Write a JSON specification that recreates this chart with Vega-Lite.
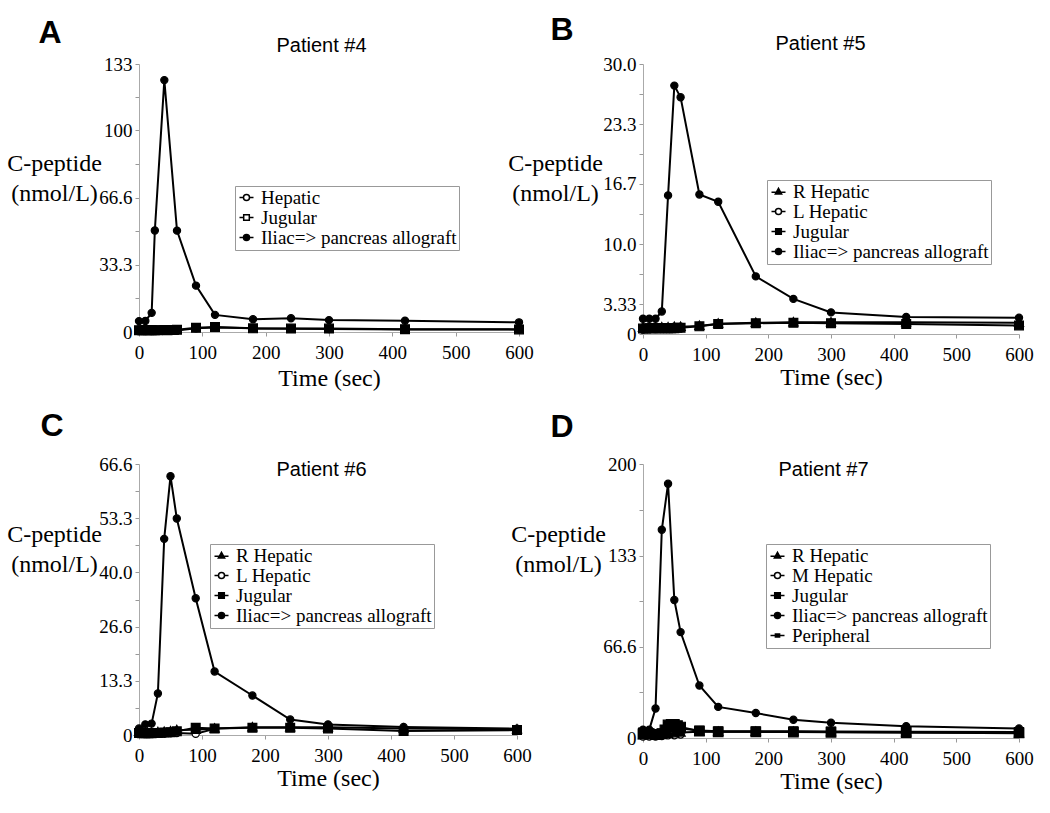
{
  "$schema": "https://vega.github.io/schema/vega-lite/v6.json",
  "autosize": {"type": "none"},
  "padding": {"left": 139, "top": 64, "right": 911, "bottom": 749},
  "background": "white",
  "datasets": {
    "A": [
      {"s":"Hepatic","t":0,"v":0.5},{"s":"Hepatic","t":10,"v":0.5},{"s":"Hepatic","t":20,"v":0.5},{"s":"Hepatic","t":25,"v":0.6},{"s":"Hepatic","t":40,"v":0.6},{"s":"Hepatic","t":60,"v":0.8},{"s":"Hepatic","t":90,"v":1.8},{"s":"Hepatic","t":120,"v":2.2},{"s":"Hepatic","t":180,"v":1.8},{"s":"Hepatic","t":240,"v":1.6},{"s":"Hepatic","t":300,"v":1.5},{"s":"Hepatic","t":420,"v":1.3},{"s":"Hepatic","t":600,"v":1.2},
      {"s":"Jugular","t":0,"v":0.9},{"s":"Jugular","t":5,"v":0.9},{"s":"Jugular","t":10,"v":0.9},{"s":"Jugular","t":15,"v":0.9},{"s":"Jugular","t":20,"v":0.9},{"s":"Jugular","t":25,"v":0.9},{"s":"Jugular","t":30,"v":0.9},{"s":"Jugular","t":40,"v":1.0},{"s":"Jugular","t":45,"v":0.9},{"s":"Jugular","t":50,"v":1.0},{"s":"Jugular","t":55,"v":1.0},{"s":"Jugular","t":60,"v":1.1},{"s":"Jugular","t":90,"v":2.1},{"s":"Jugular","t":120,"v":2.5},{"s":"Jugular","t":180,"v":1.8},{"s":"Jugular","t":240,"v":1.7},{"s":"Jugular","t":300,"v":1.7},{"s":"Jugular","t":420,"v":1.4},{"s":"Jugular","t":600,"v":1.3},
      {"s":"Iliac=> pancreas allograft","t":0,"v":5.4},{"s":"Iliac=> pancreas allograft","t":10,"v":5.5},{"s":"Iliac=> pancreas allograft","t":20,"v":9.5},{"s":"Iliac=> pancreas allograft","t":25,"v":50.4},{"s":"Iliac=> pancreas allograft","t":40,"v":125},{"s":"Iliac=> pancreas allograft","t":60,"v":50.3},{"s":"Iliac=> pancreas allograft","t":90,"v":23},{"s":"Iliac=> pancreas allograft","t":120,"v":8.5},{"s":"Iliac=> pancreas allograft","t":180,"v":6.3},{"s":"Iliac=> pancreas allograft","t":240,"v":6.8},{"s":"Iliac=> pancreas allograft","t":300,"v":5.9},{"s":"Iliac=> pancreas allograft","t":420,"v":5.6},{"s":"Iliac=> pancreas allograft","t":600,"v":4.8}
    ],
    "B": [
      {"s":"L Hepatic","t":0,"v":0.5},{"s":"L Hepatic","t":10,"v":0.55},{"s":"L Hepatic","t":20,"v":0.55},{"s":"L Hepatic","t":30,"v":0.6},{"s":"L Hepatic","t":40,"v":0.6},{"s":"L Hepatic","t":50,"v":0.6},{"s":"L Hepatic","t":60,"v":0.65},
      {"s":"R Hepatic","t":0,"v":0.7},{"s":"R Hepatic","t":10,"v":0.7},{"s":"R Hepatic","t":20,"v":0.7},{"s":"R Hepatic","t":30,"v":0.75},{"s":"R Hepatic","t":40,"v":0.75},{"s":"R Hepatic","t":50,"v":0.8},{"s":"R Hepatic","t":60,"v":0.8},{"s":"R Hepatic","t":90,"v":0.9},{"s":"R Hepatic","t":120,"v":1.15},{"s":"R Hepatic","t":180,"v":1.25},{"s":"R Hepatic","t":240,"v":1.3},{"s":"R Hepatic","t":300,"v":1.3},{"s":"R Hepatic","t":420,"v":1.3},{"s":"R Hepatic","t":600,"v":1.25},
      {"s":"Jugular","t":0,"v":0.6},{"s":"Jugular","t":5,"v":0.6},{"s":"Jugular","t":10,"v":0.65},{"s":"Jugular","t":15,"v":0.65},{"s":"Jugular","t":20,"v":0.65},{"s":"Jugular","t":25,"v":0.65},{"s":"Jugular","t":30,"v":0.65},{"s":"Jugular","t":35,"v":0.65},{"s":"Jugular","t":40,"v":0.65},{"s":"Jugular","t":45,"v":0.65},{"s":"Jugular","t":50,"v":0.65},{"s":"Jugular","t":55,"v":0.7},{"s":"Jugular","t":60,"v":0.7},{"s":"Jugular","t":90,"v":0.85},{"s":"Jugular","t":120,"v":1.1},{"s":"Jugular","t":180,"v":1.2},{"s":"Jugular","t":240,"v":1.25},{"s":"Jugular","t":300,"v":1.2},{"s":"Jugular","t":420,"v":1.1},{"s":"Jugular","t":600,"v":0.95},
      {"s":"Iliac=> pancreas allograft","t":0,"v":1.7},{"s":"Iliac=> pancreas allograft","t":10,"v":1.7},{"s":"Iliac=> pancreas allograft","t":20,"v":1.7},{"s":"Iliac=> pancreas allograft","t":30,"v":2.5},{"s":"Iliac=> pancreas allograft","t":40,"v":15.4},{"s":"Iliac=> pancreas allograft","t":50,"v":27.6},{"s":"Iliac=> pancreas allograft","t":60,"v":26.3},{"s":"Iliac=> pancreas allograft","t":90,"v":15.5},{"s":"Iliac=> pancreas allograft","t":120,"v":14.7},{"s":"Iliac=> pancreas allograft","t":180,"v":6.4},{"s":"Iliac=> pancreas allograft","t":240,"v":3.9},{"s":"Iliac=> pancreas allograft","t":300,"v":2.4},{"s":"Iliac=> pancreas allograft","t":420,"v":1.9},{"s":"Iliac=> pancreas allograft","t":600,"v":1.8}
    ],
    "C": [
      {"s":"L Hepatic","t":0,"v":0.3},{"s":"L Hepatic","t":10,"v":0.3},{"s":"L Hepatic","t":20,"v":0.3},{"s":"L Hepatic","t":30,"v":0.3},{"s":"L Hepatic","t":40,"v":0.3},{"s":"L Hepatic","t":50,"v":0.4},{"s":"L Hepatic","t":60,"v":0.5},{"s":"L Hepatic","t":90,"v":0.3},{"s":"L Hepatic","t":120,"v":1.5},
      {"s":"R Hepatic","t":0,"v":0.8},{"s":"R Hepatic","t":10,"v":0.6},{"s":"R Hepatic","t":20,"v":0.6},{"s":"R Hepatic","t":30,"v":0.7},{"s":"R Hepatic","t":40,"v":0.8},{"s":"R Hepatic","t":50,"v":0.9},{"s":"R Hepatic","t":60,"v":1.2},{"s":"R Hepatic","t":90,"v":1.3},{"s":"R Hepatic","t":120,"v":1.6},{"s":"R Hepatic","t":180,"v":1.9},{"s":"R Hepatic","t":240,"v":1.9},{"s":"R Hepatic","t":300,"v":1.9},{"s":"R Hepatic","t":420,"v":1.6},{"s":"R Hepatic","t":600,"v":1.4},
      {"s":"Jugular","t":0,"v":0.5},{"s":"Jugular","t":5,"v":0.4},{"s":"Jugular","t":10,"v":0.4},{"s":"Jugular","t":15,"v":0.4},{"s":"Jugular","t":20,"v":0.4},{"s":"Jugular","t":25,"v":0.5},{"s":"Jugular","t":30,"v":0.5},{"s":"Jugular","t":40,"v":0.6},{"s":"Jugular","t":50,"v":0.7},{"s":"Jugular","t":60,"v":0.9},{"s":"Jugular","t":90,"v":1.8},{"s":"Jugular","t":120,"v":1.6},{"s":"Jugular","t":180,"v":1.8},{"s":"Jugular","t":240,"v":1.8},{"s":"Jugular","t":300,"v":1.6},{"s":"Jugular","t":420,"v":1.0},{"s":"Jugular","t":600,"v":1.2},
      {"s":"Iliac=> pancreas allograft","t":0,"v":1.6},{"s":"Iliac=> pancreas allograft","t":10,"v":2.6},{"s":"Iliac=> pancreas allograft","t":20,"v":2.8},{"s":"Iliac=> pancreas allograft","t":30,"v":10.2},{"s":"Iliac=> pancreas allograft","t":40,"v":48.2},{"s":"Iliac=> pancreas allograft","t":50,"v":63.6},{"s":"Iliac=> pancreas allograft","t":60,"v":53.2},{"s":"Iliac=> pancreas allograft","t":90,"v":33.6},{"s":"Iliac=> pancreas allograft","t":120,"v":15.6},{"s":"Iliac=> pancreas allograft","t":180,"v":9.7},{"s":"Iliac=> pancreas allograft","t":240,"v":3.8},{"s":"Iliac=> pancreas allograft","t":300,"v":2.6},{"s":"Iliac=> pancreas allograft","t":420,"v":1.95},{"s":"Iliac=> pancreas allograft","t":600,"v":1.55}
    ],
    "D": [
      {"s":"M Hepatic","t":0,"v":1},{"s":"M Hepatic","t":10,"v":1},{"s":"M Hepatic","t":20,"v":1},{"s":"M Hepatic","t":30,"v":1.5},{"s":"M Hepatic","t":40,"v":2},{"s":"M Hepatic","t":50,"v":2},{"s":"M Hepatic","t":60,"v":2.5},
      {"s":"R Hepatic","t":0,"v":2},{"s":"R Hepatic","t":10,"v":2},{"s":"R Hepatic","t":20,"v":2},{"s":"R Hepatic","t":30,"v":2.5},{"s":"R Hepatic","t":40,"v":3},{"s":"R Hepatic","t":50,"v":3.5},{"s":"R Hepatic","t":60,"v":4},{"s":"R Hepatic","t":90,"v":4.5},{"s":"R Hepatic","t":120,"v":4.5},{"s":"R Hepatic","t":180,"v":4.5},{"s":"R Hepatic","t":240,"v":4.5},{"s":"R Hepatic","t":300,"v":4.3},{"s":"R Hepatic","t":420,"v":4.1},{"s":"R Hepatic","t":600,"v":3.5},
      {"s":"Peripheral","t":0,"v":3},{"s":"Peripheral","t":10,"v":3},{"s":"Peripheral","t":20,"v":2.5},{"s":"Peripheral","t":30,"v":3},{"s":"Peripheral","t":35,"v":6},{"s":"Peripheral","t":40,"v":9.5},{"s":"Peripheral","t":45,"v":10},{"s":"Peripheral","t":50,"v":10},{"s":"Peripheral","t":55,"v":9},{"s":"Peripheral","t":60,"v":8},{"s":"Peripheral","t":90,"v":5},{"s":"Peripheral","t":120,"v":4.5},{"s":"Peripheral","t":180,"v":4.5},{"s":"Peripheral","t":240,"v":4.3},{"s":"Peripheral","t":300,"v":4.2},{"s":"Peripheral","t":420,"v":4},{"s":"Peripheral","t":600,"v":3.8},
      {"s":"Jugular","t":0,"v":4},{"s":"Jugular","t":10,"v":3.5},{"s":"Jugular","t":20,"v":3},{"s":"Jugular","t":30,"v":3.5},{"s":"Jugular","t":40,"v":8},{"s":"Jugular","t":50,"v":9},{"s":"Jugular","t":60,"v":7},{"s":"Jugular","t":90,"v":5.5},{"s":"Jugular","t":120,"v":5},{"s":"Jugular","t":180,"v":5},{"s":"Jugular","t":240,"v":5},{"s":"Jugular","t":300,"v":4.8},{"s":"Jugular","t":420,"v":4.6},{"s":"Jugular","t":600,"v":4.3},
      {"s":"Iliac=> pancreas allograft","t":0,"v":6.1},{"s":"Iliac=> pancreas allograft","t":10,"v":6.1},{"s":"Iliac=> pancreas allograft","t":20,"v":21.5},{"s":"Iliac=> pancreas allograft","t":30,"v":152},{"s":"Iliac=> pancreas allograft","t":40,"v":185.6},{"s":"Iliac=> pancreas allograft","t":50,"v":100.7},{"s":"Iliac=> pancreas allograft","t":60,"v":77.3},{"s":"Iliac=> pancreas allograft","t":90,"v":38.3},{"s":"Iliac=> pancreas allograft","t":120,"v":22.7},{"s":"Iliac=> pancreas allograft","t":180,"v":18.2},{"s":"Iliac=> pancreas allograft","t":240,"v":13.3},{"s":"Iliac=> pancreas allograft","t":300,"v":11.1},{"s":"Iliac=> pancreas allograft","t":420,"v":8.6},{"s":"Iliac=> pancreas allograft","t":600,"v":6.9}
    ]
  },
  "config": {
    "view": {"stroke": null},
    "axis": {"labelFont": "Liberation Serif", "labelFontSize": 19, "labelColor": "black", "labelFlush": false, "titleFont": "Liberation Serif", "titleFontSize": 24, "titleFontWeight": "normal", "titleColor": "black", "tickColor": "#999", "domainColor": "#aaa", "tickSize": 4, "grid": false},
    "legend": {"orient": "none", "strokeColor": "#999", "fillColor": "white", "padding": 2, "labelFont": "Liberation Serif", "labelFontSize": 19, "labelColor": "black", "labelLimit": 400, "symbolSize": 196, "symbolStrokeWidth": 1.5, "rowPadding": 0, "labelOffset": 5}
  },
  "bounds": "flush",
  "columns": 2,
  "spacing": {"row": 130, "column": 124},
  "concat": [
        {
          "width": 380, "height": 268,
          "data": {"name": "A"},
          "layer": [
            {"mark": {"type": "line", "stroke": "black", "strokeWidth": 2},
             "encoding": {
               "x": {"field": "t", "type": "quantitative", "scale": {"domain": [0, 600], "nice": false},
                     "axis": {"values": [0,100,200,300,400,500,600], "labelPadding": 7, "title": "Time (sec)", "titleY": 46, "titleBaseline": "middle"}},
               "y": {"field": "v", "type": "quantitative", "scale": {"domain": [0, 133], "nice": false},
                     "axis": {"values": [0,16.65,33.3,50,66.6,83.3,100,116.5,133], "labelExpr": "datum.value==0?'0':datum.value==33.3?'33.3':datum.value==66.6?'66.6':datum.value==100?'100':datum.value==133?'133':''", "labelPadding": 3, "title": ["C-peptide", "(nmol/L)"], "titleAngle": 0, "titleAlign": "center", "titleBaseline": "top", "titleX": -85, "titleY": 87, "titleLineHeight": 30}},
               "detail": {"field": "s"}}},
            {"mark": {"type": "point", "filled": true, "size": 64, "stroke": "black", "strokeWidth": 1.2, "opacity": 1},
             "encoding": {
               "x": {"field": "t", "type": "quantitative", "scale": {"domain": [0, 600], "nice": false}, "axis": null},
               "y": {"field": "v", "type": "quantitative", "scale": {"domain": [0, 133], "nice": false}, "axis": null},
               "shape": {"field": "s", "type": "nominal", "scale": {"domain": ["Hepatic","Jugular","Iliac=> pancreas allograft"], "range": ["M-0.9,0A0.9,0.9 0 1,1 0.9,0A0.9,0.9 0 1,1 -0.9,0Z","M-1.1,-1.1H1.1V1.1H-1.1Z","M-0.9,0A0.9,0.9 0 1,1 0.9,0A0.9,0.9 0 1,1 -0.9,0Z"]}, "legend": null},
               "fill": {"field": "s", "type": "nominal", "scale": {"domain": ["Hepatic","Jugular","Iliac=> pancreas allograft"], "range": ["white","black","black"]}, "legend": null}}},
            {"transform": [{"filter": "false"}],
             "mark": {"type": "point", "filled": true, "size": 196, "strokeWidth": 1.5, "opacity": 1},
             "encoding": {
               "x": {"field": "t", "type": "quantitative", "scale": {"domain": [0, 600], "nice": false},
                     "axis": {"orient": "top", "labels": false, "ticks": false, "domain": false, "title": "Patient #4", "titleFont": "Liberation Sans", "titleFontSize": 20, "titleX": 182, "titleY": -19, "titleBaseline": "middle", "titleAlign": "center"}},
               "y": {"field": "v", "type": "quantitative", "scale": {"domain": [0, 133], "nice": false},
                     "axis": {"orient": "left", "labels": false, "ticks": false, "domain": false, "title": "A", "titleFont": "Liberation Sans", "titleFontSize": 32, "titleFontWeight": "bold", "titleAngle": 0, "titleAlign": "left", "titleBaseline": "alphabetic", "titleX": -101, "titleY": -22}},
               "shape": {"field": "s", "type": "nominal", "scale": {"domain": ["Hepatic","Jugular","Iliac=> pancreas allograft"], "range": ["M-1,0H-0.43M0.43,0H1M-0.43,0A0.43,0.43 0 1,1 0.43,0A0.43,0.43 0 1,1 -0.43,0Z","M-1,0H-0.4M0.4,0H1M-0.4,-0.4H0.4V0.4H-0.4Z","M-1,0H-0.43M0.43,0H1M-0.43,0A0.43,0.43 0 1,1 0.43,0A0.43,0.43 0 1,1 -0.43,0Z"]},
                         "legend": {"title": null, "orient": "none", "legendX": 96, "legendY": 122}},
               "fill": {"field": "s", "type": "nominal", "scale": {"domain": ["Hepatic","Jugular","Iliac=> pancreas allograft"], "range": ["white","white","black"]},
                         "legend": {"title": null, "orient": "none", "legendX": 96, "legendY": 122}},
               "stroke": {"field": "s", "type": "nominal", "scale": {"domain": ["Hepatic","Jugular","Iliac=> pancreas allograft"], "range": ["black","black","black"]},
                         "legend": {"title": null, "orient": "none", "legendX": 96, "legendY": 122}}}}
          ],
          "resolve": {"scale": {"shape": "independent", "fill": "independent", "stroke": "independent"}, "axis": {"x": "independent", "y": "independent"}}
        },
        {
          "width": 376, "height": 270,
          "data": {"name": "B"},
          "layer": [
            {"mark": {"type": "line", "stroke": "black", "strokeWidth": 2},
             "encoding": {
               "x": {"field": "t", "type": "quantitative", "scale": {"domain": [0, 600], "nice": false},
                     "axis": {"values": [0,100,200,300,400,500,600], "labelPadding": 7, "title": "Time (sec)", "titleY": 43, "titleBaseline": "middle"}},
               "y": {"field": "v", "type": "quantitative", "scale": {"domain": [0, 30], "nice": false},
                     "axis": {"values": [0,3.33,6.67,10,13.33,16.7,20,23.3,26.67,30], "labelExpr": "datum.value==0?'0':datum.value==3.33?'3.33':datum.value==10?'10.0':datum.value==16.7?'16.7':datum.value==23.3?'23.3':datum.value==30?'30.0':''", "labelPadding": 3, "title": ["C-peptide", "(nmol/L)"], "titleAngle": 0, "titleAlign": "center", "titleBaseline": "top", "titleX": -88, "titleY": 87, "titleLineHeight": 30}},
               "detail": {"field": "s"}}},
            {"mark": {"type": "point", "filled": true, "size": 64, "stroke": "black", "strokeWidth": 1.2, "opacity": 1},
             "encoding": {
               "x": {"field": "t", "type": "quantitative", "scale": {"domain": [0, 600], "nice": false}, "axis": null},
               "y": {"field": "v", "type": "quantitative", "scale": {"domain": [0, 30], "nice": false}, "axis": null},
               "shape": {"field": "s", "type": "nominal", "scale": {"domain": ["R Hepatic","L Hepatic","Jugular","Iliac=> pancreas allograft"], "range": ["M0,-1.2L1.15,0.9H-1.15Z","M-0.9,0A0.9,0.9 0 1,1 0.9,0A0.9,0.9 0 1,1 -0.9,0Z","M-1.1,-1.1H1.1V1.1H-1.1Z","M-0.9,0A0.9,0.9 0 1,1 0.9,0A0.9,0.9 0 1,1 -0.9,0Z"]}, "legend": null},
               "fill": {"field": "s", "type": "nominal", "scale": {"domain": ["R Hepatic","L Hepatic","Jugular","Iliac=> pancreas allograft"], "range": ["black","white","black","black"]}, "legend": null}}},
            {"transform": [{"filter": "false"}],
             "mark": {"type": "point", "filled": true, "size": 196, "strokeWidth": 1.5, "opacity": 1},
             "encoding": {
               "x": {"field": "t", "type": "quantitative", "scale": {"domain": [0, 600], "nice": false},
                     "axis": {"orient": "top", "labels": false, "ticks": false, "domain": false, "title": "Patient #5", "titleFont": "Liberation Sans", "titleFontSize": 20, "titleX": 177, "titleY": -21, "titleBaseline": "middle", "titleAlign": "center"}},
               "y": {"field": "v", "type": "quantitative", "scale": {"domain": [0, 30], "nice": false},
                     "axis": {"orient": "left", "labels": false, "ticks": false, "domain": false, "title": "B", "titleFont": "Liberation Sans", "titleFontSize": 32, "titleFontWeight": "bold", "titleAngle": 0, "titleAlign": "left", "titleBaseline": "alphabetic", "titleX": -93, "titleY": -25}},
               "shape": {"field": "s", "type": "nominal", "scale": {"domain": ["R Hepatic","L Hepatic","Jugular","Iliac=> pancreas allograft"], "range": ["M-1,0.1H1M0,-0.45L0.45,0.35H-0.45Z","M-1,0H-0.43M0.43,0H1M-0.43,0A0.43,0.43 0 1,1 0.43,0A0.43,0.43 0 1,1 -0.43,0Z","M-1,0H-0.4M0.4,0H1M-0.4,-0.4H0.4V0.4H-0.4Z","M-1,0H-0.43M0.43,0H1M-0.43,0A0.43,0.43 0 1,1 0.43,0A0.43,0.43 0 1,1 -0.43,0Z"]},
                         "legend": {"title": null, "orient": "none", "legendX": 124, "legendY": 116}},
               "fill": {"field": "s", "type": "nominal", "scale": {"domain": ["R Hepatic","L Hepatic","Jugular","Iliac=> pancreas allograft"], "range": ["black","white","black","black"]},
                         "legend": {"title": null, "orient": "none", "legendX": 124, "legendY": 116}},
               "stroke": {"field": "s", "type": "nominal", "scale": {"domain": ["R Hepatic","L Hepatic","Jugular","Iliac=> pancreas allograft"], "range": ["black","black","black","black"]},
                         "legend": {"title": null, "orient": "none", "legendX": 124, "legendY": 116}}}}
          ],
          "resolve": {"scale": {"shape": "independent", "fill": "independent", "stroke": "independent"}, "axis": {"x": "independent", "y": "independent"}}
        },
        {
          "width": 378, "height": 271,
          "data": {"name": "C"},
          "layer": [
            {"mark": {"type": "line", "stroke": "black", "strokeWidth": 2},
             "encoding": {
               "x": {"field": "t", "type": "quantitative", "scale": {"domain": [0, 600], "nice": false},
                     "axis": {"values": [0,100,200,300,400,500,600], "labelPadding": 7, "title": "Time (sec)", "titleY": 43, "titleBaseline": "middle"}},
               "y": {"field": "v", "type": "quantitative", "scale": {"domain": [0, 66.6], "nice": false},
                     "axis": {"values": [0,6.65,13.3,19.95,26.6,33.3,40,46.6,53.3,60,66.6], "labelExpr": "datum.value==0?'0':datum.value==13.3?'13.3':datum.value==26.6?'26.6':datum.value==40?'40.0':datum.value==53.3?'53.3':datum.value==66.6?'66.6':''", "labelPadding": 3, "title": ["C-peptide", "(nmol/L)"], "titleAngle": 0, "titleAlign": "center", "titleBaseline": "top", "titleX": -85, "titleY": 58, "titleLineHeight": 30}},
               "detail": {"field": "s"}}},
            {"mark": {"type": "point", "filled": true, "size": 64, "stroke": "black", "strokeWidth": 1.2, "opacity": 1},
             "encoding": {
               "x": {"field": "t", "type": "quantitative", "scale": {"domain": [0, 600], "nice": false}, "axis": null},
               "y": {"field": "v", "type": "quantitative", "scale": {"domain": [0, 66.6], "nice": false}, "axis": null},
               "shape": {"field": "s", "type": "nominal", "scale": {"domain": ["R Hepatic","L Hepatic","Jugular","Iliac=> pancreas allograft"], "range": ["M0,-1.2L1.15,0.9H-1.15Z","M-0.9,0A0.9,0.9 0 1,1 0.9,0A0.9,0.9 0 1,1 -0.9,0Z","M-1.1,-1.1H1.1V1.1H-1.1Z","M-0.9,0A0.9,0.9 0 1,1 0.9,0A0.9,0.9 0 1,1 -0.9,0Z"]}, "legend": null},
               "fill": {"field": "s", "type": "nominal", "scale": {"domain": ["R Hepatic","L Hepatic","Jugular","Iliac=> pancreas allograft"], "range": ["black","white","black","black"]}, "legend": null}}},
            {"transform": [{"filter": "false"}],
             "mark": {"type": "point", "filled": true, "size": 196, "strokeWidth": 1.5, "opacity": 1},
             "encoding": {
               "x": {"field": "t", "type": "quantitative", "scale": {"domain": [0, 600], "nice": false},
                     "axis": {"orient": "top", "labels": false, "ticks": false, "domain": false, "title": "Patient #6", "titleFont": "Liberation Sans", "titleFontSize": 20, "titleX": 182, "titleY": 5, "titleBaseline": "middle", "titleAlign": "center"}},
               "y": {"field": "v", "type": "quantitative", "scale": {"domain": [0, 66.6], "nice": false},
                     "axis": {"orient": "left", "labels": false, "ticks": false, "domain": false, "title": "C", "titleFont": "Liberation Sans", "titleFontSize": 32, "titleFontWeight": "bold", "titleAngle": 0, "titleAlign": "left", "titleBaseline": "alphabetic", "titleX": -99, "titleY": -29}},
               "shape": {"field": "s", "type": "nominal", "scale": {"domain": ["R Hepatic","L Hepatic","Jugular","Iliac=> pancreas allograft"], "range": ["M-1,0.1H1M0,-0.45L0.45,0.35H-0.45Z","M-1,0H-0.43M0.43,0H1M-0.43,0A0.43,0.43 0 1,1 0.43,0A0.43,0.43 0 1,1 -0.43,0Z","M-1,0H-0.4M0.4,0H1M-0.4,-0.4H0.4V0.4H-0.4Z","M-1,0H-0.43M0.43,0H1M-0.43,0A0.43,0.43 0 1,1 0.43,0A0.43,0.43 0 1,1 -0.43,0Z"]},
                         "legend": {"title": null, "orient": "none", "legendX": 71, "legendY": 80}},
               "fill": {"field": "s", "type": "nominal", "scale": {"domain": ["R Hepatic","L Hepatic","Jugular","Iliac=> pancreas allograft"], "range": ["black","white","black","black"]},
                         "legend": {"title": null, "orient": "none", "legendX": 71, "legendY": 80}},
               "stroke": {"field": "s", "type": "nominal", "scale": {"domain": ["R Hepatic","L Hepatic","Jugular","Iliac=> pancreas allograft"], "range": ["black","black","black","black"]},
                         "legend": {"title": null, "orient": "none", "legendX": 71, "legendY": 80}}}}
          ],
          "resolve": {"scale": {"shape": "independent", "fill": "independent", "stroke": "independent"}, "axis": {"x": "independent", "y": "independent"}}
        },
        {
          "width": 376, "height": 274,
          "data": {"name": "D"},
          "layer": [
            {"mark": {"type": "line", "stroke": "black", "strokeWidth": 2},
             "encoding": {
               "x": {"field": "t", "type": "quantitative", "scale": {"domain": [0, 600], "nice": false},
                     "axis": {"values": [0,100,200,300,400,500,600], "labelPadding": 7, "title": "Time (sec)", "titleY": 43, "titleBaseline": "middle"}},
               "y": {"field": "v", "type": "quantitative", "scale": {"domain": [0, 200], "nice": false},
                     "axis": {"values": [0,33.3,66.6,100,133,166.6,200], "labelExpr": "datum.value==0?'0':datum.value==66.6?'66.6':datum.value==133?'133':datum.value==200?'200':''", "labelPadding": 3, "title": ["C-peptide", "(nmol/L)"], "titleAngle": 0, "titleAlign": "center", "titleBaseline": "top", "titleX": -85, "titleY": 58, "titleLineHeight": 30}},
               "detail": {"field": "s"}}},
            {"mark": {"type": "point", "filled": true, "size": 64, "stroke": "black", "strokeWidth": 1.2, "opacity": 1},
             "encoding": {
               "x": {"field": "t", "type": "quantitative", "scale": {"domain": [0, 600], "nice": false}, "axis": null},
               "y": {"field": "v", "type": "quantitative", "scale": {"domain": [0, 200], "nice": false}, "axis": null},
               "shape": {"field": "s", "type": "nominal", "scale": {"domain": ["R Hepatic","M Hepatic","Jugular","Iliac=> pancreas allograft","Peripheral"], "range": ["M0,-1.2L1.15,0.9H-1.15Z","M-0.9,0A0.9,0.9 0 1,1 0.9,0A0.9,0.9 0 1,1 -0.9,0Z","M-1.1,-1.1H1.1V1.1H-1.1Z","M-0.9,0A0.9,0.9 0 1,1 0.9,0A0.9,0.9 0 1,1 -0.9,0Z","M-1.2,-1.2H1.2V1.2H-1.2Z"]}, "legend": null},
               "fill": {"field": "s", "type": "nominal", "scale": {"domain": ["R Hepatic","M Hepatic","Jugular","Iliac=> pancreas allograft","Peripheral"], "range": ["black","white","black","black","black"]}, "legend": null}}},
            {"transform": [{"filter": "false"}],
             "mark": {"type": "point", "filled": true, "size": 196, "strokeWidth": 1.5, "opacity": 1},
             "encoding": {
               "x": {"field": "t", "type": "quantitative", "scale": {"domain": [0, 600], "nice": false},
                     "axis": {"orient": "top", "labels": false, "ticks": false, "domain": false, "title": "Patient #7", "titleFont": "Liberation Sans", "titleFontSize": 20, "titleX": 180, "titleY": 5, "titleBaseline": "middle", "titleAlign": "center"}},
               "y": {"field": "v", "type": "quantitative", "scale": {"domain": [0, 200], "nice": false},
                     "axis": {"orient": "left", "labels": false, "ticks": false, "domain": false, "title": "D", "titleFont": "Liberation Sans", "titleFontSize": 32, "titleFontWeight": "bold", "titleAngle": 0, "titleAlign": "left", "titleBaseline": "alphabetic", "titleX": -93, "titleY": -28}},
               "shape": {"field": "s", "type": "nominal", "scale": {"domain": ["R Hepatic","M Hepatic","Jugular","Iliac=> pancreas allograft","Peripheral"], "range": ["M-1,0.1H1M0,-0.45L0.45,0.35H-0.45Z","M-1,0H-0.43M0.43,0H1M-0.43,0A0.43,0.43 0 1,1 0.43,0A0.43,0.43 0 1,1 -0.43,0Z","M-1,0H-0.4M0.4,0H1M-0.4,-0.4H0.4V0.4H-0.4Z","M-1,0H-0.43M0.43,0H1M-0.43,0A0.43,0.43 0 1,1 0.43,0A0.43,0.43 0 1,1 -0.43,0Z","M-1,0H1M-0.3,-0.22H0.3V0.22H-0.3Z"]},
                         "legend": {"title": null, "orient": "none", "legendX": 123, "legendY": 80}},
               "fill": {"field": "s", "type": "nominal", "scale": {"domain": ["R Hepatic","M Hepatic","Jugular","Iliac=> pancreas allograft","Peripheral"], "range": ["black","white","black","black","black"]},
                         "legend": {"title": null, "orient": "none", "legendX": 123, "legendY": 80}},
               "stroke": {"field": "s", "type": "nominal", "scale": {"domain": ["R Hepatic","M Hepatic","Jugular","Iliac=> pancreas allograft","Peripheral"], "range": ["black","black","black","black","black"]},
                         "legend": {"title": null, "orient": "none", "legendX": 123, "legendY": 80}}}}
          ],
          "resolve": {"scale": {"shape": "independent", "fill": "independent", "stroke": "independent"}, "axis": {"x": "independent", "y": "independent"}}
        }
  ]
}
